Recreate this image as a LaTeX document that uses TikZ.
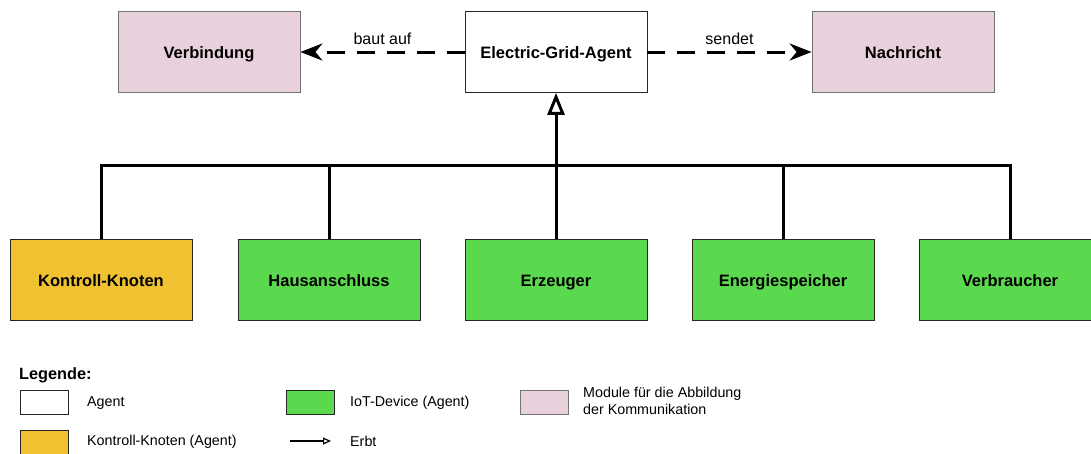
\documentclass[tikz,border=0pt]{standalone}
\usepackage{fontspec}
\setmainfont{Liberation Sans}
\usepackage{xcolor}
\usetikzlibrary{arrows.meta,positioning}

\definecolor{modulrosa}{HTML}{E8D1DC}
\definecolor{iotgruen}{HTML}{5BD94E}
\definecolor{knotengelb}{HTML}{F0C232}

\begin{document}
\begin{tikzpicture}[x=1pt,y=-1pt,
		box/.style={draw=black!85,line width=0.8pt,minimum width=182pt,minimum height=81pt,inner sep=0pt,text height=14pt,text depth=1.5pt,font=\bfseries\fontsize{16.5}{19}\selectfont},
		modul/.style={box,fill=modulrosa,draw=black!55},
		iot/.style={box,fill=iotgruen},
		knoten/.style={box,fill=knotengelb},
		legbox/.style={draw=black!85,line width=0.8pt,minimum width=48pt,minimum height=24pt,inner sep=0pt},
		legtext/.style={anchor=west,inner sep=0pt,font=\fontsize{14.3}{16.5}\selectfont,align=left},
		conn/.style={line width=3pt},
		uses/.style={line width=3pt,dash pattern=on 18pt off 12pt,-{Stealth[length=22pt,width=17pt,inset=7pt]}},
		erbt/.style={conn,-{Triangle[open,length=22pt,width=17pt,line width=3pt]}},
		lbl/.style={font=\fontsize{16}{19}\selectfont}]
	\useasboundingbox (0,0) rectangle (1091,453);
	
	% obere Reihe
	\node[box] (agent) at (556,52) {Electric-Grid-Agent};
	\node[modul] (verbindung) at (209,52) {Verbindung};
	\node[modul] (nachricht) at (903,52) {Nachricht};
	
	\draw[uses] (agent) -- node[lbl,above=3pt]{baut auf} (verbindung);
	\draw[uses] (agent) -- node[lbl,above=3pt]{sendet} (nachricht);
	
	% untere Reihe
	\node[knoten] (kontroll) at (101,280) {Kontroll-Knoten};
	\node[iot] (hausanschluss) at (329,280) {Hausanschluss};
	\node[iot] (erzeuger) at (556,280) {Erzeuger};
	\node[iot] (speicher) at (783,280) {Energiespeicher};
	\node[iot] (verbraucher) at (1010,280) {Verbraucher};
	
	\coordinate (bus) at (556,165);
	\draw[conn] (kontroll.north) |- (bus) -| (verbraucher.north);
	\draw[conn] (hausanschluss.north) -- (hausanschluss.north |- bus);
	\draw[conn] (speicher.north) -- (speicher.north |- bus);
	\draw[erbt] (erzeuger.north) -- (agent.south);
	
	% Legende
	\node[anchor=west,inner sep=0pt,font=\bfseries\fontsize{16.3}{19}\selectfont] (legende) at (19,375) {Legende:};
	\node[legbox] (lagent) at (44,402) {};
	\node[legtext] (tagent) at (87,403) {Agent};
	\node[legbox,fill=knotengelb] (lknoten) at (44,442) {};
	\node[legtext] (tknoten) at (87,442) {Kontroll-Knoten (Agent)};
	\node[legbox,fill=iotgruen] (liot) at (310,402) {};
	\node[legtext] (tiot) at (350,403) {IoT-Device (Agent)};
	\node[legbox,fill=modulrosa,draw=black!55] (lmodul) at (544,402) {};
	\node[legtext] (tmodul) at (583,401) {Module für die Abbildung\\der Kommunikation};
	\coordinate (erbtA) at (290,441);
	\coordinate (erbtB) at (331,441);
	\draw[line width=1.8pt,-{Triangle[open,length=8pt,width=7pt,line width=1.2pt]}] (erbtA) -- (erbtB);
	\node[legtext] (terbt) at (350,441) {Erbt};
\end{tikzpicture}
\end{document}
